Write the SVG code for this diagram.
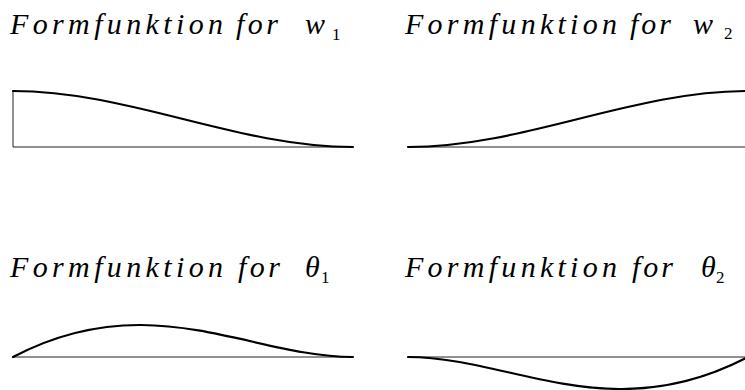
<svg xmlns="http://www.w3.org/2000/svg" width="745" height="390" viewBox="0 0 745 390">
<style>
.t{font-family:"Liberation Serif","DejaVu Serif",serif;font-style:italic;font-size:30px;fill:#000}
.s{font-family:"Liberation Serif","DejaVu Serif",serif;font-size:17px;fill:#000}
.ax{stroke:#222;stroke-width:1;fill:none}
.cv{stroke:#000;stroke-width:2.2;fill:none;stroke-linecap:round}
</style>
<rect width="745" height="390" fill="#fff"/>
<g id="panel-w1">
<text class="t" x="10" y="34" textLength="213" lengthAdjust="spacing">Formfunktion</text>
<text class="t" x="236" y="34" textLength="42" lengthAdjust="spacing">for</text>
<text class="t" x="305" y="34">w</text>
<text class="s" x="332" y="40">1</text>
<path class="ax" d="M13 91V147H353"/>
<path class="cv" d="M13 91C130 91 236 147 353 147"/>
</g>
<g id="panel-w2">
<text class="t" x="405" y="34" textLength="212" lengthAdjust="spacing">Formfunktion</text>
<text class="t" x="630" y="34" textLength="41" lengthAdjust="spacing">for</text>
<text class="t" x="693" y="34">w</text>
<text class="s" x="724" y="39">2</text>
<path class="ax" d="M408 147H748"/>
<path class="cv" d="M408 147C525 147 631 91 748 91"/>
</g>
<g id="panel-theta1">
<text class="t" x="10" y="277" textLength="213" lengthAdjust="spacing">Formfunktion</text>
<text class="t" x="238" y="277" textLength="42" lengthAdjust="spacing">for</text>
<text class="t" x="305" y="277">θ</text>
<text class="s" x="321" y="283">1</text>
<path class="ax" d="M13 357H353"/>
<path class="cv" d="M13 357C150 285 250 357 353 357"/>
</g>
<g id="panel-theta2">
<text class="t" x="405" y="277" textLength="212" lengthAdjust="spacing">Formfunktion</text>
<text class="t" x="632" y="277" textLength="41" lengthAdjust="spacing">for</text>
<text class="t" x="701" y="277">θ</text>
<text class="s" x="716" y="283">2</text>
<path class="ax" d="M408 357H748"/>
<path class="cv" d="M408 357C511 357 611 429 748 357"/>
</g>
</svg>
